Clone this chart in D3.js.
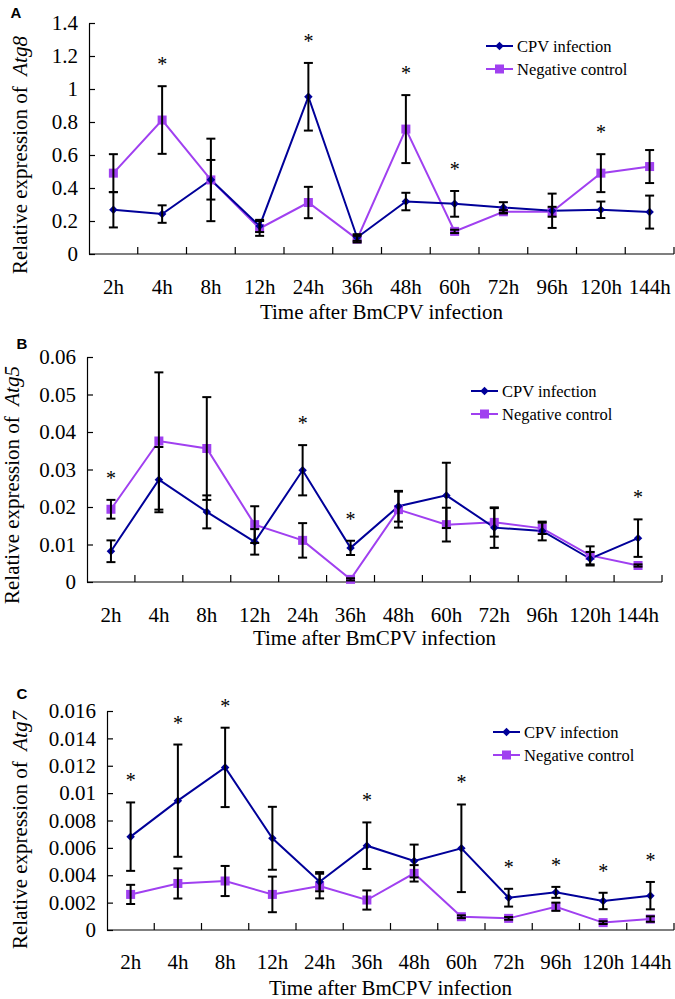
<!DOCTYPE html>
<html><head><meta charset="utf-8">
<script src="https://cdn.jsdelivr.net/npm/d3@7"></script>
<style>body{margin:0;background:#fff}svg{display:block}
.serif{font-family:"Liberation Serif","Times New Roman",Times,serif}
.sans{font-family:"Liberation Sans",Arial,sans-serif}
</style>
</head><body>
<script>
const categories = ["2h","4h","8h","12h","24h","36h","48h","60h","72h","96h","120h","144h"];

// Panel A: Atg8
const atg8Cpv     = [0.268,0.242,0.45,0.17,0.953,0.10,0.318,0.304,0.282,0.262,0.268,0.254];
const atg8CpvErr  = [0.107,0.053,0.12,0.037,0.205,0.02,0.053,0.078,0.032,0.104,0.05,0.10];
const atg8Neg     = [0.49,0.812,0.449,0.155,0.312,0.09,0.757,0.137,0.256,0.256,0.49,0.53];
const atg8NegErr  = [0.115,0.205,0.25,0.045,0.095,0.02,0.206,0.01,0.01,0.03,0.115,0.10];
const atg8Stars   = [0,1,0,0,1,0,1,1,0,0,1,0];
const atg8Ticks   = [0,0.2,0.4,0.6,0.8,1,1.2,1.4];

// Panel B: Atg5
const atg5Cpv     = [0.0082,0.0273,0.0187,0.0107,0.0298,0.0091,0.0202,0.0231,0.0145,0.0136,0.0062,0.0117];
const atg5CpvErr  = [0.0029,0.0087,0.0044,0.0034,0.0067,0.0019,0.0041,0.0087,0.0054,0.0025,0.0018,0.005];
const atg5Neg     = [0.0194,0.0376,0.0356,0.0153,0.0111,0.0007,0.0193,0.0153,0.0159,0.0143,0.0071,0.0044];
const atg5NegErr  = [0.0025,0.0183,0.0137,0.0049,0.0046,0.0003,0.0048,0.0045,0.0038,0.0015,0.0024,0.0003];
const atg5Stars   = [1,0,0,0,1,1,0,0,0,0,0,1];
const atg5Ticks   = [0,0.01,0.02,0.03,0.04,0.05,0.06];

// Panel C: Atg7
const atg7Cpv     = [0.00682,0.00945,0.01188,0.0067,0.00353,0.00616,0.00504,0.00597,0.00236,0.00275,0.00212,0.00251];
const atg7CpvErr  = [0.0025,0.0041,0.0029,0.0023,0.0007,0.0017,0.0012,0.0032,0.00065,0.0004,0.0006,0.001];
const atg7Neg     = [0.0026,0.0034,0.00358,0.0026,0.00321,0.00219,0.00414,0.00097,0.00085,0.0017,0.00054,0.0008];
const atg7NegErr  = [0.0007,0.0011,0.0011,0.0013,0.0009,0.0007,0.0006,0.0001,0.0001,0.0003,0.0001,0.0002];
const atg7Stars   = [1,1,1,0,0,1,0,1,1,1,1,1];
const atg7Ticks   = [0,0.002,0.004,0.006,0.008,0.01,0.012,0.014,0.016];

const seriesNames = ["CPV infection","Negative control"];
const xTitle = "Time after BmCPV infection";

const CPV_COLOR = "#000099";
const NEG_COLOR = "#A040F0";
const FS = "21px";

const svg = d3.select("body").append("svg").attr("width",675).attr("height",999);

const panels = [
  {label:"A", gene:"Atg8", cpv:atg8Cpv, cpvErr:atg8CpvErr, neg:atg8Neg, negErr:atg8NegErr, stars:atg8Stars, ticks:atg8Ticks,
   l:89, r:674, t:23, b:254, labY:287, titY:312, yTitX:20, yTitC:155, legX:486, legY:46, lblX:16, lblY:13},
  {label:"B", gene:"Atg5", cpv:atg5Cpv, cpvErr:atg5CpvErr, neg:atg5Neg, negErr:atg5NegErr, stars:atg5Stars, ticks:atg5Ticks,
   l:87, r:662, t:357, b:582, labY:615, titY:638, yTitX:12, yTitC:485, legX:471, legY:391, lblX:22, lblY:344},
  {label:"C", gene:"Atg7", cpv:atg7Cpv, cpvErr:atg7CpvErr, neg:atg7Neg, negErr:atg7NegErr, stars:atg7Stars, ticks:atg7Ticks,
   l:107, r:674, t:711, b:930, labY:962, titY:988, yTitX:20, yTitC:830, legX:493, legY:732, lblX:22, lblY:694}
];

panels.forEach(p => {
  const g = svg.append("g");
  const x = d3.scaleBand().domain(categories).range([p.l, p.r]);
  const y = d3.scaleLinear().domain([0, d3.max(p.ticks)]).range([p.b, p.t]);
  const cx = c => x(c) + x.bandwidth()/2;

  const yAxis = d3.axisLeft(y).tickValues(p.ticks).tickSizeInner(-6).tickSizeOuter(0)
    .tickFormat(d => String(+d.toPrecision(6)));
  const ya = g.append("g").attr("transform",`translate(${p.l},0)`).call(yAxis);
  ya.attr("font-family",null).attr("font-size",null);
  ya.select(".domain").attr("stroke","#000").attr("stroke-width",1.2);
  ya.selectAll(".tick line").attr("stroke","#000").attr("stroke-width",1.2);
  ya.selectAll(".tick text").attr("x",-11).attr("class","serif").style("font-size",FS).attr("fill","#000");

  g.append("line").attr("x1",p.l).attr("x2",p.r).attr("y1",p.b).attr("y2",p.b).attr("stroke","#000").attr("stroke-width",1.2);
  const bounds = categories.map(c => x(c) + x.bandwidth());
  g.selectAll(".xt").data(bounds).enter().append("line")
    .attr("x1",d=>d).attr("x2",d=>d).attr("y1",p.b).attr("y2",p.b-7).attr("stroke","#000").attr("stroke-width",1.2);
  g.selectAll(".xl").data(categories).enter().append("text").attr("class","serif")
    .attr("x",cx).attr("y",p.labY).attr("dy","0.35em").attr("text-anchor","middle")
    .style("font-size",FS).text(d=>d);
  g.append("text").attr("class","serif").attr("x",(p.l+p.r)/2).attr("y",p.titY).attr("dy","0.35em").attr("text-anchor","middle")
    .style("font-size",FS).text(xTitle);

  const yt = g.append("text").attr("class","serif").attr("transform",`translate(${p.yTitX},${p.yTitC}) rotate(-90)`)
    .attr("text-anchor","middle").attr("dy","0.35em").style("font-size",FS);
  yt.append("tspan").text("Relative expression of\u00a0\u00a0");
  yt.append("tspan").attr("font-style","italic").text(p.gene);

  g.append("text").attr("class","sans").attr("x",p.lblX).attr("y",p.lblY).attr("dy","0.35em").attr("text-anchor","middle")
    .attr("font-weight","bold").style("font-size","15px").text(p.label);

  const line = d3.line().x((d,i)=>cx(categories[i])).y(d=>y(d));

  g.append("path").attr("d",line(p.neg)).attr("fill","none").attr("stroke",NEG_COLOR).attr("stroke-width",2);
  g.append("path").attr("d",line(p.cpv)).attr("fill","none").attr("stroke",CPV_COLOR).attr("stroke-width",2);

  g.selectAll(".nm").data(p.neg).enter().append("rect")
    .attr("x",(d,i)=>cx(categories[i])-4.5).attr("y",d=>y(d)-4.5).attr("width",9).attr("height",9).attr("fill",NEG_COLOR);
  g.selectAll(".cm").data(p.cpv).enter().append("path")
    .attr("transform",(d,i)=>`translate(${cx(categories[i])},${y(d)}) rotate(45)`)
    .attr("d",d3.symbol().type(d3.symbolSquare).size(36)).attr("fill",CPV_COLOR);

  const drawErr = (vals, errs) => {
    vals.forEach((v,i) => {
      const e = errs[i];
      const X = cx(categories[i]);
      const y1 = y(v+e), y2 = y(Math.max(0,v-e));
      g.append("line").attr("x1",X).attr("x2",X).attr("y1",y1).attr("y2",y2).attr("stroke","#000").attr("stroke-width",2);
      [y1,y2].forEach(yy => g.append("line").attr("x1",X-4.5).attr("x2",X+4.5).attr("y1",yy).attr("y2",yy).attr("stroke","#000").attr("stroke-width",2));
    });
  };
  drawErr(p.neg, p.negErr);
  drawErr(p.cpv, p.cpvErr);

  p.stars.forEach((s,i) => {
    if (!s) return;
    const top = Math.min(y(p.cpv[i]+p.cpvErr[i]), y(p.neg[i]+p.negErr[i]));
    g.append("text").attr("class","serif").attr("x",cx(categories[i])).attr("y",top-22).attr("dy","0.35em").attr("text-anchor","middle")
      .style("font-size","20px").text("*");
  });

  const leg = g.append("g").attr("transform",`translate(${p.legX},${p.legY})`);
  [[CPV_COLOR,"cpv"],[NEG_COLOR,"neg"]].forEach((c,k) => {
    const ly = k*23;
    leg.append("line").attr("x1",0).attr("x2",27).attr("y1",ly).attr("y2",ly).attr("stroke",c[0]).attr("stroke-width",2);
    if (c[1]==="cpv") {
      leg.append("path").attr("transform",`translate(13.5,${ly}) rotate(45)`).attr("d",d3.symbol().type(d3.symbolSquare).size(36)).attr("fill",c[0]);
    } else {
      leg.append("rect").attr("x",9).attr("y",ly-4.5).attr("width",9).attr("height",9).attr("fill",c[0]);
    }
    leg.append("text").attr("class","serif").attr("x",31).attr("y",ly).attr("dy","0.35em").style("font-size","16.5px").text(seriesNames[k]);
  });
});
</script>
</body></html>
